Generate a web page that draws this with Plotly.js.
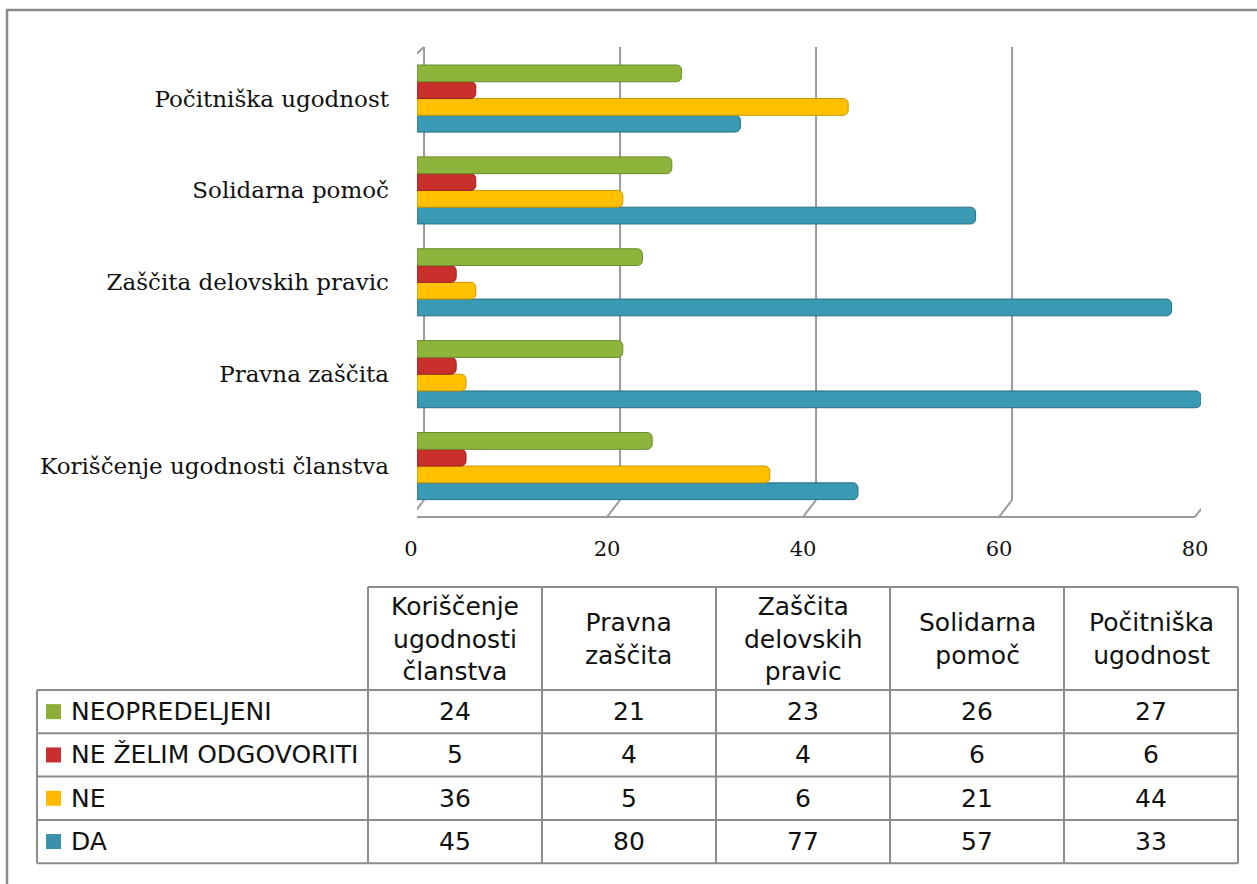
<!DOCTYPE html>
<html>
<head>
<meta charset="utf-8">
<script src="https://cdn.plot.ly/plotly-3.0.1.min.js"></script>
<style>html,body{margin:0;padding:0;background:#fff;}#chart{width:1257px;height:884px;}</style>
</head>
<body>
<div id="chart"></div>
<script>
// ---- data ----
var categories = ['Koriščenje ugodnosti članstva', 'Pravna zaščita', 'Zaščita delovskih pravic', 'Solidarna pomoč', 'Počitniška ugodnost'];
var headerLabels = ['Koriščenje<br>ugodnosti<br>članstva', 'Pravna<br>zaščita', 'Zaščita<br>delovskih<br>pravic', 'Solidarna<br>pomoč', 'Počitniška<br>ugodnost'];
var seriesNames = ['NEOPREDELJENI', 'NE ŽELIM ODGOVORITI', 'NE', 'DA'];
var neopredeljeni = [24, 21, 23, 26, 27];
var neZelim = [5, 4, 4, 6, 6];
var ne = [36, 5, 6, 21, 44];
var da = [45, 80, 77, 57, 33];
var xTicks = [0, 20, 40, 60, 80];

// ---- styles ----
var W = 1257, H = 884;
var seriesValues = [neopredeljeni, neZelim, ne, da];
var barColors = ['#8db53c', '#c9302c', '#ffc000', '#3a9ab4'];
var barEdges = ['#6a8a2a', '#962220', '#c79500', '#2a6f82'];
var legendColors = ['#8aae38', '#c8302f', '#ffb900', '#3a91a9'];
var gridColor = '#9a9a9a';
var tableLine = '#8c8c8c';
var tableFont = { family: 'DejaVu Sans', size: 25, color: '#111111' };
function px(x) { return x / W; }
function py(y) { return 1 - y / H; }

var traces = [];
// bottom-to-top inside each group: DA, NE, NE ŽELIM, NEOPREDELJENI
for (var i = seriesNames.length - 1; i >= 0; i--) {
  traces.push({
    type: 'bar', orientation: 'h', name: seriesNames[i],
    y: categories, x: seriesValues[i],
    marker: { color: barColors[i], line: { color: barEdges[i], width: 1 }, cornerradius: 5 },
    hoverinfo: 'none'
  });
}

var shapes = [];
var annotations = [];

// 3D wall / grid decoration
var dxB = 0.72, dxF = -0.62;
var backTop = py(47), backBot = py(500), frontBot = py(517), frontTop = py(59);
xTicks.forEach(function (v) {
  shapes.push({ type: 'line', xref: 'x', yref: 'paper', x0: v + dxB, x1: v + dxB, y0: backBot, y1: backTop, line: { color: gridColor, width: 2 }, layer: 'below' });
  shapes.push({ type: 'line', xref: 'x', yref: 'paper', x0: v + dxB, x1: v + dxF, y0: backBot, y1: frontBot, line: { color: gridColor, width: 2 }, layer: 'below' });
});
shapes.push({ type: 'line', xref: 'x', yref: 'paper', x0: xTicks[0] + dxF, x1: xTicks[xTicks.length - 1] + dxF, y0: frontBot, y1: frontBot, line: { color: gridColor, width: 2 }, layer: 'below' });
shapes.push({ type: 'line', xref: 'x', yref: 'paper', x0: xTicks[0] + dxF, x1: xTicks[0] + dxF, y0: frontBot, y1: frontTop, line: { color: gridColor, width: 2 }, layer: 'below' });
shapes.push({ type: 'line', xref: 'x', yref: 'paper', x0: xTicks[0] + dxF, x1: xTicks[0] + dxB, y0: frontTop, y1: backTop, line: { color: gridColor, width: 2 }, layer: 'below' });

// outer frame
shapes.push({ type: 'path', xref: 'paper', yref: 'paper',
  path: 'M ' + px(7) + ' ' + py(884) + ' L ' + px(7) + ' ' + py(10) + ' L ' + px(1257) + ' ' + py(10),
  line: { color: '#8a8a8a', width: 2.5 } });

// ---- data table (legend + values) ----
var colX = [37, 368, 542, 716, 890, 1064, 1238];
var headTop = 587, headBot = 690;
var rowY = [690, 733.3, 776.6, 819.9, 863.2];
function hline(x0, x1, y) {
  shapes.push({ type: 'line', xref: 'paper', yref: 'paper', x0: px(x0), x1: px(x1), y0: py(y), y1: py(y), line: { color: tableLine, width: 2 } });
}
function vline(x, y0, y1) {
  shapes.push({ type: 'line', xref: 'paper', yref: 'paper', x0: px(x), x1: px(x), y0: py(y0), y1: py(y1), line: { color: tableLine, width: 2 } });
}
hline(colX[1], colX[colX.length - 1], headTop);
rowY.forEach(function (y) { hline(colX[0], colX[colX.length - 1], y); });
colX.forEach(function (x, k) { vline(x, k === 0 ? headBot : headTop, rowY[rowY.length - 1]); });

// header labels
headerLabels.forEach(function (lab, c) {
  annotations.push({ xref: 'paper', yref: 'paper', x: px((colX[c + 1] + colX[c + 2]) / 2), y: py((headTop + headBot) / 2),
    text: lab, showarrow: false, xanchor: 'center', yanchor: 'middle', align: 'center', font: tableFont });
});
// rows
seriesNames.forEach(function (name, r) {
  var yc = (rowY[r] + rowY[r + 1]) / 2;
  shapes.push({ type: 'rect', xref: 'paper', yref: 'paper', x0: px(46), x1: px(61), y0: py(yc - 7.5), y1: py(yc + 7.5),
    fillcolor: legendColors[r], line: { width: 0 } });
  annotations.push({ xref: 'paper', yref: 'paper', x: px(69), y: py(yc), text: name, showarrow: false,
    xanchor: 'left', yanchor: 'middle', font: tableFont });
  seriesValues[r].forEach(function (v, c) {
    annotations.push({ xref: 'paper', yref: 'paper', x: px((colX[c + 1] + colX[c + 2]) / 2), y: py(yc), text: String(v),
      showarrow: false, xanchor: 'center', yanchor: 'middle', font: tableFont });
  });
});

var layout = {
  width: W, height: H,
  margin: { l: 0, r: 0, t: 0, b: 0 },
  paper_bgcolor: '#ffffff', plot_bgcolor: 'rgba(0,0,0,0)',
  showlegend: false,
  barmode: 'group', bargap: 0.27, bargroupgap: 0,
  xaxis: {
    domain: [px(417), px(1201)], range: [0, 80], tickvals: xTicks,
    showgrid: false, zeroline: false, showline: false, ticks: '',
    tickfont: { family: 'DejaVu Serif', size: 21, color: '#111' },
    ticklabelstandoff: 22, ticklabelshift: -6, fixedrange: true
  },
  yaxis: {
    domain: [py(512), py(52.6)], type: 'category',
    categoryorder: 'array', categoryarray: categories,
    showgrid: false, zeroline: false, showline: false, ticks: '',
    tickfont: { family: 'DejaVu Serif', size: 23, color: '#111' },
    ticklabelstandoff: 27, fixedrange: true
  },
  shapes: shapes,
  annotations: annotations
};

Plotly.newPlot('chart', traces, layout, { staticPlot: true });
</script>
</body>
</html>
